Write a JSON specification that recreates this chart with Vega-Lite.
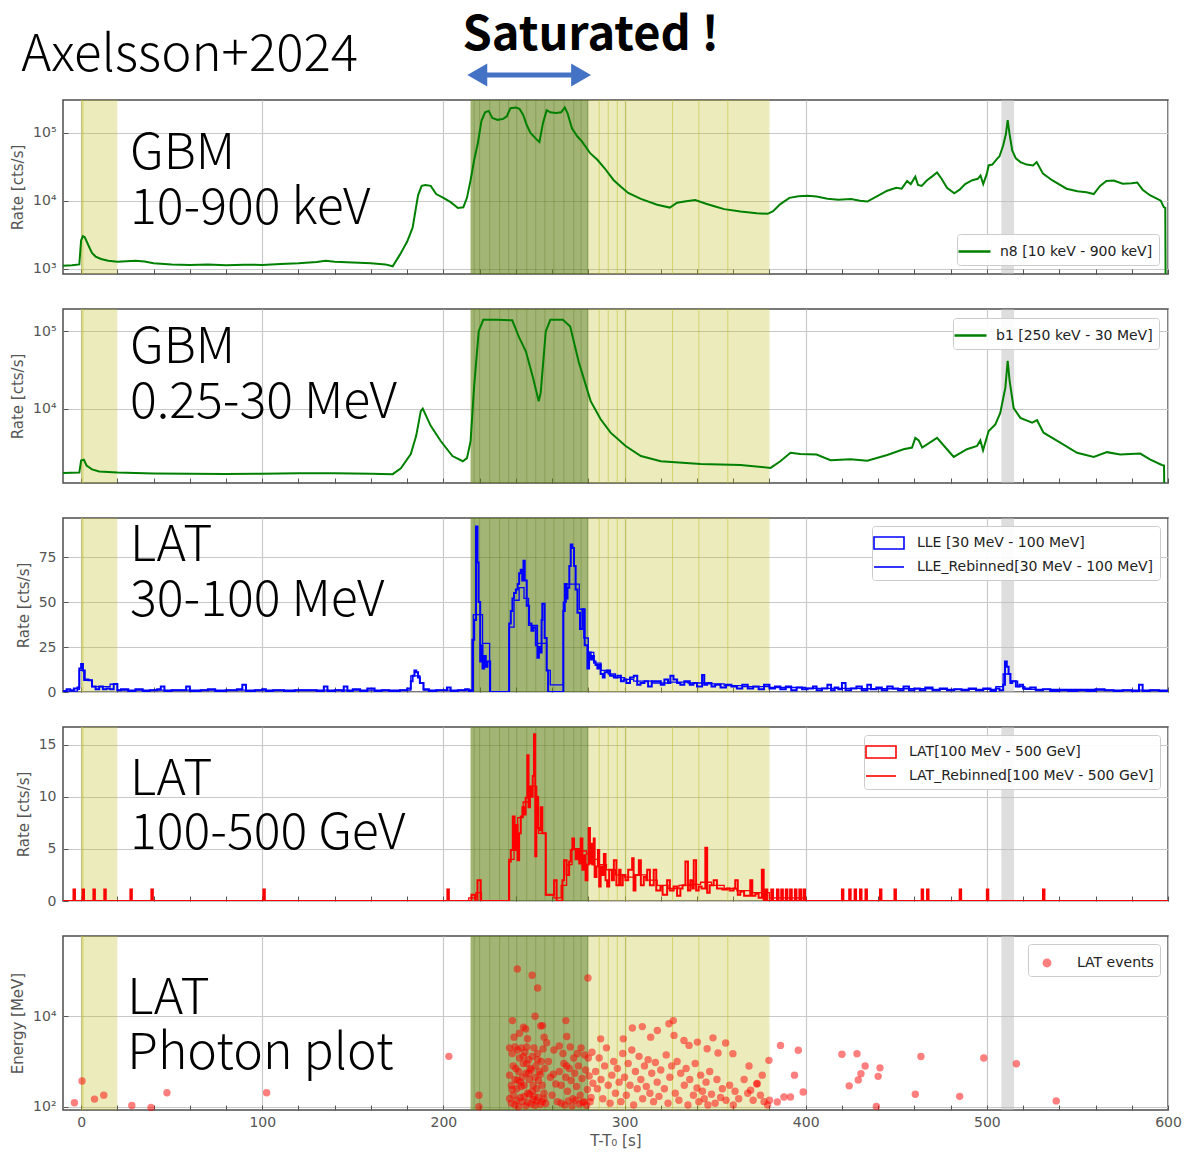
{
"$schema": "https://vega.github.io/schema/vega-lite/v6.json",
"padding": {"left": 9, "top": 0, "right": 10, "bottom": 5},
"spacing": 35,
"bounds": "flush",
"resolve": {"scale": {"color": "independent"}, "legend": {"color": "independent"}},
"config": {
  "font": "DejaVu Sans",
  "view": {"stroke": "#4d4d4d", "strokeWidth": 1.5},
  "axis": {"labelFont": "DejaVu Sans", "titleFont": "DejaVu Sans", "labelColor": "#555", "titleColor": "#555", "labelFontSize": 14, "titleFontSize": 15, "titleFontWeight": "normal", "domain": false, "tickColor": "#555", "tickSize": -5, "labelPadding": 12, "titlePadding": 7, "gridColor": "#c8c8c8", "gridWidth": 1.2},
  "legend": {"labelFont": "DejaVu Sans", "labelFontSize": 14, "labelColor": "#222", "fillColor": "rgba(255,255,255,0.9)", "strokeColor": "#cccccc", "cornerRadius": 3, "padding": 6, "rowPadding": 3, "labelLimit": 400}
},
"datasets": {
  "bands": [{"t":0,"t2":20,"kind":"olive"},{"t":0,"t2":1.5,"kind":"olive"},{"t":215,"t2":380,"kind":"olive"},{"t":215,"t2":280,"kind":"dark"},{"t":508,"t2":515,"kind":"grey"}],
  "vlines": [{"t":217,"kind":"dark"},{"t":220,"kind":"dark"},{"t":225.6,"kind":"dark"},{"t":231,"kind":"dark"},{"t":236,"kind":"dark"},{"t":240.5,"kind":"dark"},{"t":246,"kind":"dark"},{"t":251,"kind":"dark"},{"t":256,"kind":"dark"},{"t":261,"kind":"dark"},{"t":266.5,"kind":"dark"},{"t":272,"kind":"dark"},{"t":276,"kind":"dark"},{"t":279.6,"kind":"dark"},{"t":286,"kind":"light"},{"t":291,"kind":"light"},{"t":296,"kind":"light"},{"t":300.6,"kind":"light"},{"t":326.5,"kind":"light"},{"t":341,"kind":"light"},{"t":357,"kind":"light"}],
  "labels": [{"panel":"n8","line":"GBM","t":27,"y":29600},{"panel":"n8","line":"10-900 keV","t":27,"y":4520},{"panel":"b1","line":"GBM","t":27,"y":38600},{"panel":"b1","line":"0.25-30 MeV","t":27,"y":7540},{"panel":"lle","line":"LAT","t":27,"y":72.8},{"panel":"lle","line":"30-100 MeV","t":27,"y":42.2},{"panel":"lat","line":"LAT","t":27,"y":10.2},{"panel":"lat","line":"100-500 GeV","t":27,"y":5.03},{"panel":"ph","line":"LAT","t":25.5,"y":11300},{"panel":"ph","line":"Photon plot","t":25.5,"y":699}],
  "n8": [{"t":-10,"rate":1100},{"t":-5,"rate":1120},{"t":-1,"rate":1150},{"t":0,"rate":2600},{"t":1,"rate":3000},{"t":2,"rate":2900},{"t":4,"rate":2200},{"t":6,"rate":1700},{"t":8,"rate":1500},{"t":11,"rate":1380},{"t":15,"rate":1300},{"t":20,"rate":1260},{"t":25,"rate":1280},{"t":30,"rate":1300},{"t":35,"rate":1270},{"t":40,"rate":1200},{"t":50,"rate":1150},{"t":60,"rate":1130},{"t":70,"rate":1150},{"t":80,"rate":1120},{"t":90,"rate":1140},{"t":100,"rate":1130},{"t":110,"rate":1170},{"t":120,"rate":1200},{"t":130,"rate":1250},{"t":135,"rate":1300},{"t":140,"rate":1260},{"t":150,"rate":1230},{"t":160,"rate":1200},{"t":168,"rate":1150},{"t":172,"rate":1080},{"t":176,"rate":1600},{"t":180,"rate":2500},{"t":183,"rate":4000},{"t":186,"rate":12000},{"t":188,"rate":16500},{"t":190,"rate":17000},{"t":193,"rate":16500},{"t":196,"rate":12500},{"t":200,"rate":11000},{"t":204,"rate":9500},{"t":208,"rate":7800},{"t":211,"rate":8000},{"t":213,"rate":11000},{"t":215,"rate":20000},{"t":217,"rate":40000},{"t":219,"rate":70000},{"t":221,"rate":150000},{"t":223,"rate":200000},{"t":225,"rate":210000},{"t":227,"rate":165000},{"t":230,"rate":155000},{"t":233,"rate":160000},{"t":235,"rate":175000},{"t":237,"rate":230000},{"t":240,"rate":235000},{"t":242,"rate":225000},{"t":244,"rate":185000},{"t":246,"rate":130000},{"t":248,"rate":100000},{"t":251,"rate":82000},{"t":253,"rate":73000},{"t":255,"rate":140000},{"t":257,"rate":215000},{"t":259,"rate":200000},{"t":262,"rate":195000},{"t":265,"rate":200000},{"t":267,"rate":236000},{"t":268.5,"rate":195000},{"t":271,"rate":115000},{"t":274,"rate":88000},{"t":276,"rate":77000},{"t":279,"rate":60000},{"t":281,"rate":50000},{"t":285,"rate":40000},{"t":289,"rate":30000},{"t":294,"rate":20000},{"t":298,"rate":16000},{"t":302,"rate":13000},{"t":309,"rate":10600},{"t":318,"rate":8700},{"t":325,"rate":7900},{"t":329,"rate":9300},{"t":334,"rate":9800},{"t":339,"rate":10200},{"t":345,"rate":9000},{"t":350,"rate":8200},{"t":355,"rate":7500},{"t":364,"rate":6900},{"t":373,"rate":6500},{"t":379,"rate":6400},{"t":382,"rate":7000},{"t":386,"rate":8900},{"t":391,"rate":11000},{"t":396,"rate":11600},{"t":401,"rate":11800},{"t":406,"rate":11500},{"t":412,"rate":10700},{"t":418,"rate":10300},{"t":425,"rate":10600},{"t":430,"rate":10000},{"t":434,"rate":9700},{"t":439,"rate":11500},{"t":445,"rate":14000},{"t":450,"rate":15500},{"t":453,"rate":15000},{"t":456,"rate":19500},{"t":458,"rate":17500},{"t":460.5,"rate":22500},{"t":462,"rate":17000},{"t":464,"rate":16500},{"t":467,"rate":20000},{"t":470,"rate":23000},{"t":472.5,"rate":26000},{"t":475,"rate":21000},{"t":478,"rate":15500},{"t":482,"rate":12800},{"t":485,"rate":14500},{"t":488,"rate":17500},{"t":492,"rate":20000},{"t":495,"rate":21000},{"t":496.5,"rate":23500},{"t":498,"rate":17500},{"t":500,"rate":25000},{"t":501,"rate":33000},{"t":503,"rate":34000},{"t":505.5,"rate":41000},{"t":507,"rate":45000},{"t":509,"rate":65000},{"t":510.5,"rate":95000},{"t":511.5,"rate":153000},{"t":512.5,"rate":97000},{"t":514,"rate":55000},{"t":516,"rate":42000},{"t":518.5,"rate":37000},{"t":522,"rate":34000},{"t":525.5,"rate":33000},{"t":527.5,"rate":37000},{"t":531,"rate":25000},{"t":536,"rate":20000},{"t":544,"rate":15000},{"t":550,"rate":13800},{"t":555,"rate":13300},{"t":559,"rate":12500},{"t":562.5,"rate":16500},{"t":566,"rate":19500},{"t":570,"rate":19800},{"t":575,"rate":17800},{"t":580,"rate":18000},{"t":583,"rate":18500},{"t":586,"rate":14500},{"t":590,"rate":12000},{"t":593,"rate":11000},{"t":596,"rate":10000},{"t":597.7,"rate":8000},{"t":598.5,"rate":7800},{"t":598.8,"rate":100},{"t":600,"rate":100}],
  "b1": [{"t":-10,"rate":1480},{"t":-1,"rate":1500},{"t":0,"rate":2150},{"t":1.5,"rate":2200},{"t":3,"rate":1850},{"t":6,"rate":1650},{"t":10,"rate":1550},{"t":20,"rate":1500},{"t":40,"rate":1460},{"t":60,"rate":1450},{"t":80,"rate":1440},{"t":100,"rate":1450},{"t":120,"rate":1470},{"t":140,"rate":1470},{"t":160,"rate":1450},{"t":172,"rate":1430},{"t":176.5,"rate":1700},{"t":182,"rate":2600},{"t":185,"rate":4500},{"t":187.5,"rate":9300},{"t":188.6,"rate":10000},{"t":190,"rate":8500},{"t":193,"rate":6000},{"t":198.6,"rate":3800},{"t":205,"rate":2450},{"t":210.7,"rate":2100},{"t":213,"rate":2300},{"t":215,"rate":3800},{"t":217,"rate":20000},{"t":219.5,"rate":100000},{"t":222,"rate":140000},{"t":230,"rate":140000},{"t":238,"rate":138000},{"t":241.6,"rate":85000},{"t":245.5,"rate":55000},{"t":249.3,"rate":26000},{"t":252.6,"rate":12500},{"t":253.7,"rate":16000},{"t":256.5,"rate":99000},{"t":259,"rate":140000},{"t":266,"rate":140000},{"t":270,"rate":115000},{"t":274.7,"rate":40000},{"t":281.3,"rate":12500},{"t":286.8,"rate":7300},{"t":292.3,"rate":4900},{"t":300.6,"rate":3300},{"t":309,"rate":2450},{"t":320,"rate":2100},{"t":342,"rate":1930},{"t":364,"rate":1880},{"t":380.6,"rate":1720},{"t":386,"rate":2100},{"t":391.6,"rate":2700},{"t":397,"rate":2600},{"t":406,"rate":2560},{"t":413.7,"rate":2160},{"t":424.7,"rate":2220},{"t":434,"rate":2130},{"t":445,"rate":2530},{"t":454,"rate":3000},{"t":458.7,"rate":3150},{"t":460.5,"rate":4200},{"t":462.4,"rate":3900},{"t":464.3,"rate":3150},{"t":472.5,"rate":4200},{"t":478,"rate":3000},{"t":481.7,"rate":2390},{"t":489,"rate":3000},{"t":494.6,"rate":3300},{"t":496.4,"rate":3900},{"t":497.9,"rate":2900},{"t":501,"rate":5150},{"t":504.7,"rate":6270},{"t":507.4,"rate":8800},{"t":510.2,"rate":18500},{"t":511.5,"rate":41500},{"t":512.6,"rate":22500},{"t":514.8,"rate":10200},{"t":518.5,"rate":7600},{"t":525,"rate":6600},{"t":527.7,"rate":7100},{"t":531.3,"rate":4900},{"t":540.5,"rate":3650},{"t":549.8,"rate":2700},{"t":559,"rate":2390},{"t":566.3,"rate":2750},{"t":573.6,"rate":2560},{"t":584.7,"rate":2640},{"t":590,"rate":2220},{"t":596.6,"rate":1880},{"t":597.8,"rate":1850},{"t":598.2,"rate":300},{"t":600,"rate":300}],
  "lle": [{"t":-10,"rate":0.5},{"t":-8,"rate":1.5},{"t":-6,"rate":1},{"t":-4,"rate":2},{"t":-2,"rate":2.5},{"t":-1,"rate":13},{"t":0,"rate":15.5},{"t":1,"rate":12},{"t":2,"rate":7},{"t":4,"rate":6.5},{"t":6,"rate":3},{"t":8,"rate":1.5},{"t":10,"rate":3},{"t":12,"rate":1.5},{"t":14,"rate":2},{"t":16,"rate":1.5},{"t":18,"rate":4.5},{"t":20,"rate":1},{"t":22,"rate":1.5},{"t":26,"rate":0.5},{"t":30,"rate":1.5},{"t":34,"rate":0.5},{"t":38,"rate":1},{"t":42,"rate":1.5},{"t":44,"rate":3},{"t":46,"rate":0.5},{"t":50,"rate":1},{"t":54,"rate":1},{"t":58,"rate":3},{"t":60,"rate":0.5},{"t":66,"rate":1},{"t":70,"rate":1.5},{"t":74,"rate":0.5},{"t":80,"rate":1},{"t":86,"rate":1.5},{"t":89,"rate":4},{"t":91,"rate":0.5},{"t":96,"rate":1},{"t":100,"rate":1.5},{"t":102,"rate":0.5},{"t":106,"rate":1},{"t":112,"rate":0.5},{"t":118,"rate":1},{"t":124,"rate":1},{"t":130,"rate":0.5},{"t":134,"rate":3},{"t":136,"rate":0.5},{"t":140,"rate":1},{"t":144,"rate":0.5},{"t":145,"rate":3},{"t":147,"rate":0.5},{"t":150,"rate":1.5},{"t":154,"rate":0.5},{"t":158,"rate":2},{"t":162,"rate":0.5},{"t":166,"rate":1},{"t":170,"rate":0.5},{"t":176,"rate":1},{"t":180,"rate":2},{"t":182,"rate":6},{"t":183,"rate":9},{"t":184,"rate":12},{"t":185,"rate":11},{"t":186,"rate":8},{"t":187,"rate":5},{"t":189,"rate":1.5},{"t":192,"rate":0.5},{"t":196,"rate":1},{"t":200,"rate":1},{"t":202,"rate":2.5},{"t":204,"rate":0.5},{"t":208,"rate":1},{"t":212,"rate":1.5},{"t":214,"rate":0.5},{"t":215,"rate":1},{"t":216,"rate":29},{"t":217,"rate":40},{"t":218,"rate":92},{"t":218.8,"rate":72},{"t":219.4,"rate":50},{"t":220.3,"rate":17},{"t":221,"rate":26},{"t":221.6,"rate":13},{"t":222.5,"rate":20},{"t":223.4,"rate":14},{"t":224.3,"rate":17},{"t":225.8,"rate":0},{"t":236.3,"rate":38},{"t":237.2,"rate":45},{"t":238.1,"rate":52},{"t":239,"rate":55},{"t":240,"rate":57},{"t":241,"rate":60},{"t":241.8,"rate":66},{"t":242.7,"rate":68},{"t":243.5,"rate":62},{"t":244.2,"rate":73},{"t":244.9,"rate":62},{"t":246,"rate":48},{"t":247.3,"rate":38},{"t":248.6,"rate":34},{"t":249.7,"rate":36},{"t":251,"rate":26},{"t":251.9,"rate":19},{"t":252.7,"rate":25},{"t":253.4,"rate":22},{"t":254.2,"rate":40},{"t":254.6,"rate":49},{"t":255.9,"rate":30},{"t":257,"rate":12},{"t":257.8,"rate":0},{"t":266.2,"rate":45},{"t":267,"rate":60},{"t":268,"rate":52},{"t":268.5,"rate":58},{"t":269.5,"rate":70},{"t":270.3,"rate":82},{"t":271.2,"rate":80},{"t":272.1,"rate":70},{"t":273,"rate":57},{"t":274,"rate":44},{"t":275.4,"rate":35},{"t":276.7,"rate":46},{"t":278,"rate":26},{"t":279.5,"rate":13},{"t":280.4,"rate":22},{"t":281.3,"rate":18},{"t":282.2,"rate":20},{"t":283.1,"rate":17},{"t":284,"rate":15},{"t":285,"rate":13},{"t":286,"rate":15},{"t":286.8,"rate":10},{"t":288,"rate":8},{"t":289,"rate":11},{"t":290.4,"rate":12},{"t":292,"rate":9},{"t":294.1,"rate":8},{"t":296,"rate":9},{"t":298,"rate":6},{"t":299.6,"rate":7},{"t":301,"rate":5},{"t":303,"rate":8},{"t":305.1,"rate":9},{"t":307,"rate":4},{"t":308.8,"rate":5},{"t":311,"rate":6},{"t":313,"rate":3},{"t":315,"rate":6},{"t":318,"rate":6},{"t":320,"rate":4},{"t":322,"rate":7},{"t":324,"rate":5},{"t":325.3,"rate":9},{"t":327,"rate":7},{"t":329,"rate":5},{"t":330.8,"rate":4},{"t":333,"rate":6},{"t":336,"rate":4},{"t":338,"rate":5},{"t":340,"rate":3},{"t":342.8,"rate":9.5},{"t":344,"rate":4},{"t":345.6,"rate":5},{"t":348,"rate":3},{"t":350,"rate":4},{"t":353,"rate":2.5},{"t":356,"rate":4},{"t":359,"rate":3},{"t":362,"rate":2},{"t":365,"rate":4},{"t":368,"rate":2},{"t":371,"rate":3},{"t":374,"rate":1.5},{"t":377,"rate":4},{"t":380,"rate":2},{"t":383,"rate":3},{"t":386,"rate":1.5},{"t":389,"rate":3},{"t":392,"rate":1},{"t":395,"rate":2.5},{"t":398,"rate":1.5},{"t":401,"rate":2},{"t":404,"rate":3},{"t":406,"rate":1},{"t":409,"rate":2},{"t":412,"rate":4},{"t":414,"rate":1},{"t":416,"rate":2.5},{"t":418,"rate":1.5},{"t":420,"rate":5},{"t":422,"rate":1},{"t":425,"rate":2},{"t":428,"rate":3},{"t":431,"rate":1},{"t":434,"rate":4},{"t":436,"rate":1.5},{"t":439,"rate":2.5},{"t":442,"rate":1},{"t":445,"rate":3},{"t":448,"rate":2},{"t":451,"rate":1},{"t":454,"rate":3},{"t":457,"rate":1},{"t":460,"rate":2},{"t":463,"rate":1},{"t":466,"rate":2.5},{"t":470,"rate":1},{"t":474,"rate":2},{"t":478,"rate":1},{"t":482,"rate":1.5},{"t":486,"rate":1},{"t":490,"rate":2},{"t":494,"rate":1},{"t":498,"rate":2},{"t":502,"rate":0.5},{"t":505,"rate":2},{"t":507,"rate":1},{"t":509,"rate":4},{"t":510,"rate":17},{"t":511,"rate":14},{"t":512,"rate":10},{"t":513,"rate":5},{"t":514,"rate":6},{"t":516,"rate":3},{"t":518,"rate":4},{"t":520,"rate":2},{"t":524,"rate":2.5},{"t":527,"rate":1},{"t":531,"rate":1.5},{"t":535,"rate":0.5},{"t":540,"rate":1},{"t":545,"rate":0.5},{"t":550,"rate":1},{"t":555,"rate":0.5},{"t":560,"rate":1.5},{"t":565,"rate":1},{"t":570,"rate":0.5},{"t":575,"rate":1},{"t":580,"rate":0.5},{"t":584,"rate":4},{"t":586,"rate":0.5},{"t":590,"rate":1},{"t":595,"rate":0.5},{"t":600,"rate":0.5}],
  "lle_rb": [{"t":-10,"rate":0.5},{"t":-2,"rate":1.5},{"t":-1,"rate":12},{"t":1.5,"rate":6.5},{"t":6,"rate":3},{"t":16,"rate":4.3},{"t":20,"rate":1},{"t":179,"rate":1},{"t":182,"rate":9},{"t":187,"rate":5},{"t":189,"rate":1},{"t":214,"rate":0.5},{"t":216.5,"rate":43},{"t":221.6,"rate":27},{"t":225.5,"rate":0},{"t":236.3,"rate":36},{"t":239,"rate":51},{"t":241.8,"rate":58},{"t":244.5,"rate":52},{"t":247,"rate":37},{"t":251.9,"rate":27},{"t":257,"rate":12},{"t":259,"rate":4},{"t":266.2,"rate":50},{"t":267.8,"rate":60},{"t":275,"rate":46},{"t":277.5,"rate":30},{"t":280,"rate":22},{"t":283,"rate":16},{"t":287,"rate":12},{"t":291,"rate":10},{"t":295,"rate":8},{"t":300,"rate":7},{"t":305,"rate":6},{"t":315,"rate":5},{"t":325,"rate":5.5},{"t":335,"rate":5},{"t":345,"rate":4.5},{"t":355,"rate":3.5},{"t":365,"rate":3},{"t":380,"rate":2.5},{"t":400,"rate":2},{"t":430,"rate":1.8},{"t":470,"rate":1.5},{"t":505,"rate":3},{"t":509,"rate":10},{"t":513,"rate":6},{"t":517,"rate":3},{"t":521,"rate":1.5},{"t":560,"rate":1},{"t":600,"rate":1}],
  "lat": [{"t":-10,"rate":0},{"t":-4.2,"rate":1.1},{"t":-3.4,"rate":0},{"t":0.8,"rate":1.1},{"t":1.6,"rate":0},{"t":6.8,"rate":1.1},{"t":7.6,"rate":0},{"t":12.8,"rate":1.1},{"t":13.6,"rate":0},{"t":27.2,"rate":1.1},{"t":28,"rate":0},{"t":38.8,"rate":1.1},{"t":39.6,"rate":0},{"t":100.6,"rate":1.1},{"t":101.4,"rate":0},{"t":202.2,"rate":1.1},{"t":203,"rate":0},{"t":215.5,"rate":0.6},{"t":217.5,"rate":0},{"t":218.8,"rate":2},{"t":220.6,"rate":0},{"t":236.3,"rate":3.8},{"t":237.2,"rate":4.9},{"t":238.3,"rate":8.1},{"t":239.3,"rate":4.9},{"t":240,"rate":7.3},{"t":240.9,"rate":3.9},{"t":241.8,"rate":6.5},{"t":242.7,"rate":8.1},{"t":243.6,"rate":9},{"t":244.5,"rate":8.3},{"t":245.4,"rate":9.9},{"t":246.3,"rate":14},{"t":247,"rate":9},{"t":247.8,"rate":11},{"t":248.6,"rate":10},{"t":249.3,"rate":12},{"t":250,"rate":16},{"t":250.7,"rate":4.3},{"t":251.3,"rate":10},{"t":252,"rate":7},{"t":252.8,"rate":6.8},{"t":253.7,"rate":9},{"t":254.6,"rate":6.5},{"t":256.5,"rate":0.6},{"t":261.1,"rate":2},{"t":262.5,"rate":0},{"t":265.7,"rate":2},{"t":266.6,"rate":3.9},{"t":268,"rate":2.5},{"t":269.4,"rate":3.8},{"t":270.3,"rate":4.9},{"t":271.2,"rate":6},{"t":272.1,"rate":5},{"t":273,"rate":4},{"t":274,"rate":5},{"t":275,"rate":3.6},{"t":275.8,"rate":6},{"t":276.7,"rate":3},{"t":277.6,"rate":4.4},{"t":278.5,"rate":2},{"t":279.5,"rate":3.5},{"t":280.2,"rate":7},{"t":280.9,"rate":3.6},{"t":281.6,"rate":5.5},{"t":282.2,"rate":3.5},{"t":283,"rate":6},{"t":283.5,"rate":2.3},{"t":284.5,"rate":3.3},{"t":285.3,"rate":4.9},{"t":286,"rate":1.4},{"t":286.8,"rate":3.3},{"t":287.7,"rate":2.5},{"t":288.6,"rate":4.5},{"t":289.5,"rate":2},{"t":290.4,"rate":1.4},{"t":291.5,"rate":3},{"t":293,"rate":2},{"t":294.1,"rate":3.9},{"t":295.5,"rate":1.5},{"t":297,"rate":3},{"t":297.8,"rate":1.5},{"t":299,"rate":2.5},{"t":300.5,"rate":2},{"t":302,"rate":3},{"t":304.2,"rate":4.1},{"t":305,"rate":1},{"t":306,"rate":2.5},{"t":307.9,"rate":3.9},{"t":309,"rate":1.5},{"t":310.6,"rate":2.3},{"t":312,"rate":2},{"t":312.5,"rate":3},{"t":314,"rate":1.5},{"t":316.1,"rate":3},{"t":317.5,"rate":1},{"t":319.8,"rate":1.4},{"t":321,"rate":0.6},{"t":323.5,"rate":2},{"t":325,"rate":1},{"t":327.1,"rate":1.4},{"t":329,"rate":0.5},{"t":330.8,"rate":1.2},{"t":332,"rate":1.5},{"t":333.6,"rate":3.8},{"t":335,"rate":1},{"t":336.3,"rate":2},{"t":337.5,"rate":1.2},{"t":338.2,"rate":3.9},{"t":339.5,"rate":1},{"t":340.9,"rate":1.4},{"t":342.5,"rate":1.2},{"t":344.6,"rate":5.1},{"t":345.6,"rate":0.8},{"t":347,"rate":1.5},{"t":349.2,"rate":2},{"t":351,"rate":1.2},{"t":352.9,"rate":1.2},{"t":354,"rate":1.1},{"t":356.6,"rate":1.2},{"t":358,"rate":1},{"t":360.2,"rate":1.2},{"t":361.1,"rate":2},{"t":362.5,"rate":0.6},{"t":363.9,"rate":0.9},{"t":366,"rate":0.5},{"t":369.4,"rate":2},{"t":370.5,"rate":0.5},{"t":372.2,"rate":0.7},{"t":374,"rate":0.3},{"t":375.8,"rate":3},{"t":376.8,"rate":0},{"t":377.7,"rate":1.1},{"t":378.8,"rate":0},{"t":381,"rate":1.1},{"t":382,"rate":0},{"t":384.1,"rate":1.1},{"t":385,"rate":0},{"t":386.5,"rate":1.1},{"t":387.4,"rate":0},{"t":389,"rate":1.1},{"t":389.9,"rate":0},{"t":391.4,"rate":1.1},{"t":392.3,"rate":0},{"t":394,"rate":1.1},{"t":394.9,"rate":0},{"t":396.5,"rate":1.1},{"t":397.4,"rate":0},{"t":398.8,"rate":1.1},{"t":399.6,"rate":0},{"t":420,"rate":1.1},{"t":420.8,"rate":0},{"t":424,"rate":1.1},{"t":424.8,"rate":0},{"t":427,"rate":1.1},{"t":427.8,"rate":0},{"t":430,"rate":1.1},{"t":430.8,"rate":0},{"t":433,"rate":1.1},{"t":433.8,"rate":0},{"t":441,"rate":1.1},{"t":441.8,"rate":0},{"t":449,"rate":1.1},{"t":449.8,"rate":0},{"t":464,"rate":1.1},{"t":464.8,"rate":0},{"t":467,"rate":1.1},{"t":467.8,"rate":0},{"t":485,"rate":1.1},{"t":485.8,"rate":0},{"t":500,"rate":1.1},{"t":500.8,"rate":0},{"t":531,"rate":1.1},{"t":531.8,"rate":0},{"t":600,"rate":0}],
  "lat_rb": [{"t":-10,"rate":0},{"t":214,"rate":0.3},{"t":218,"rate":0.8},{"t":221,"rate":0},{"t":236,"rate":4},{"t":239,"rate":6},{"t":241,"rate":8},{"t":244,"rate":9.5},{"t":248,"rate":11},{"t":251.5,"rate":10},{"t":252.5,"rate":6.5},{"t":256.5,"rate":0.6},{"t":261,"rate":0.3},{"t":265,"rate":1.5},{"t":268,"rate":3.5},{"t":271,"rate":5},{"t":275,"rate":4.8},{"t":279,"rate":4.5},{"t":282,"rate":4},{"t":286,"rate":3.5},{"t":290,"rate":3},{"t":295,"rate":2.5},{"t":300,"rate":2.3},{"t":306,"rate":2.5},{"t":312,"rate":2},{"t":318,"rate":1.5},{"t":324,"rate":1.2},{"t":330,"rate":1.5},{"t":336,"rate":1.6},{"t":342,"rate":1.8},{"t":348,"rate":1.5},{"t":355,"rate":1.2},{"t":362,"rate":1},{"t":370,"rate":0.8},{"t":380,"rate":0.3},{"t":400,"rate":0},{"t":600,"rate":0}],
  "photons": [{"t":-3.7,"E":123},{"t":0.5,"E":372},{"t":7.4,"E":148},{"t":12.5,"E":181},{"t":28,"E":107},{"t":38.6,"E":97},{"t":47.4,"E":204},{"t":102.4,"E":204},{"t":203,"E":1300},{"t":219.6,"E":181},{"t":219.6,"E":100},{"t":240.8,"E":110000},{"t":249,"E":80000},{"t":252,"E":42000},{"t":279.8,"E":70000},{"t":238.1,"E":8000},{"t":250.6,"E":10000},{"t":245.4,"E":5250},{"t":254.7,"E":6200},{"t":239,"E":3450},{"t":246.4,"E":3170},{"t":253.7,"E":6100},{"t":255.6,"E":3450},{"t":244.2,"E":5700},{"t":242,"E":4200},{"t":236.5,"E":2000},{"t":238,"E":1500},{"t":239.5,"E":2100},{"t":241,"E":1800},{"t":242,"E":1200},{"t":243,"E":2000},{"t":244,"E":900},{"t":245,"E":1600},{"t":246,"E":2100},{"t":247,"E":1100},{"t":248,"E":700},{"t":249,"E":1300},{"t":250,"E":2000},{"t":251,"E":800},{"t":252,"E":1500},{"t":253,"E":600},{"t":254,"E":1000},{"t":255,"E":1900},{"t":256,"E":700},{"t":236.5,"E":500},{"t":237.5,"E":300},{"t":238.5,"E":800},{"t":239.5,"E":400},{"t":240.5,"E":250},{"t":241.5,"E":600},{"t":242.5,"E":350},{"t":243.5,"E":450},{"t":244.5,"E":300},{"t":245.5,"E":550},{"t":246.5,"E":200},{"t":247.5,"E":400},{"t":248.5,"E":650},{"t":249.5,"E":300},{"t":250.5,"E":450},{"t":251.5,"E":250},{"t":252.5,"E":380},{"t":253.5,"E":520},{"t":254.5,"E":300},{"t":255.5,"E":200},{"t":236.5,"E":150},{"t":237.5,"E":120},{"t":238.5,"E":180},{"t":239.5,"E":110},{"t":240.5,"E":140},{"t":241.5,"E":100},{"t":242.5,"E":160},{"t":243.5,"E":130},{"t":244.5,"E":170},{"t":245.5,"E":105},{"t":246.5,"E":125},{"t":247.5,"E":190},{"t":248.5,"E":115},{"t":249.5,"E":145},{"t":250.5,"E":108},{"t":251.5,"E":135},{"t":252.5,"E":160},{"t":253.5,"E":112},{"t":254.5,"E":130},{"t":255.5,"E":150},{"t":256.5,"E":118},{"t":240,"E":700},{"t":243,"E":280},{"t":246,"E":900},{"t":249,"E":220},{"t":252,"E":1100},{"t":241,"E":380},{"t":247,"E":550},{"t":250,"E":170},{"t":244,"E":1300},{"t":238,"E":240},{"t":257,"E":2600},{"t":258,"E":1000},{"t":259,"E":450},{"t":260,"E":180},{"t":261,"E":1800},{"t":260.7,"E":525},{"t":262,"E":320},{"t":263,"E":130},{"t":267.6,"E":8000},{"t":268.1,"E":3560},{"t":264,"E":2200},{"t":266,"E":1500},{"t":268,"E":800},{"t":270,"E":2100},{"t":272,"E":1200},{"t":274,"E":1500},{"t":276,"E":2000},{"t":278,"E":1400},{"t":280,"E":1200},{"t":282,"E":1600},{"t":264,"E":600},{"t":265,"E":300},{"t":266.5,"E":900},{"t":267.5,"E":450},{"t":268.5,"E":220},{"t":269.5,"E":700},{"t":270.5,"E":380},{"t":271.5,"E":150},{"t":272.5,"E":550},{"t":273.5,"E":280},{"t":274.5,"E":800},{"t":275.5,"E":180},{"t":276.5,"E":420},{"t":277.5,"E":130},{"t":278.5,"E":650},{"t":279.5,"E":240},{"t":280.5,"E":480},{"t":281.5,"E":160},{"t":282.5,"E":330},{"t":265,"E":120},{"t":267,"E":110},{"t":269,"E":135},{"t":271,"E":105},{"t":273,"E":140},{"t":275,"E":115},{"t":277,"E":125},{"t":279,"E":108},{"t":281,"E":130},{"t":286.8,"E":3160},{"t":299.3,"E":3160},{"t":304.3,"E":5500},{"t":309.8,"E":5900},{"t":318.1,"E":4850},{"t":324.5,"E":6800},{"t":326.9,"E":8000},{"t":314.4,"E":3450},{"t":327.3,"E":3770},{"t":332.8,"E":2920},{"t":335.6,"E":2270},{"t":340.2,"E":2680},{"t":345.6,"E":1910},{"t":348.8,"E":3330},{"t":351.6,"E":1540},{"t":355.8,"E":2560},{"t":359.8,"E":1490},{"t":368.7,"E":794},{"t":379.7,"E":1060},{"t":386.1,"E":2270},{"t":395.9,"E":1770},{"t":393.8,"E":500},{"t":398.6,"E":213},{"t":388,"E":165},{"t":391.6,"E":165},{"t":384.3,"E":128},{"t":376,"E":500},{"t":373.2,"E":326},{"t":369.6,"E":233},{"t":284,"E":600},{"t":285,"E":250},{"t":286,"E":1200},{"t":287,"E":400},{"t":288,"E":150},{"t":289,"E":800},{"t":290,"E":2000},{"t":291,"E":300},{"t":292,"E":120},{"t":293,"E":500},{"t":294,"E":1000},{"t":295,"E":200},{"t":296,"E":700},{"t":297,"E":350},{"t":298,"E":130},{"t":299,"E":1500},{"t":300,"E":450},{"t":301,"E":180},{"t":302,"E":900},{"t":303,"E":300},{"t":304,"E":1800},{"t":305,"E":110},{"t":306,"E":600},{"t":307,"E":250},{"t":308,"E":1300},{"t":309,"E":400},{"t":310,"E":150},{"t":311,"E":800},{"t":312,"E":280},{"t":313,"E":1100},{"t":314,"E":200},{"t":315,"E":550},{"t":316,"E":130},{"t":317,"E":950},{"t":318,"E":350},{"t":319,"E":170},{"t":320,"E":650},{"t":322,"E":250},{"t":323,"E":1400},{"t":324,"E":120},{"t":325,"E":450},{"t":326,"E":800},{"t":328,"E":200},{"t":329,"E":1000},{"t":330,"E":140},{"t":331,"E":550},{"t":333,"E":300},{"t":334,"E":700},{"t":335,"E":110},{"t":336,"E":400},{"t":338,"E":180},{"t":339,"E":900},{"t":340,"E":260},{"t":341,"E":130},{"t":342,"E":500},{"t":343,"E":220},{"t":344,"E":150},{"t":345,"E":350},{"t":346,"E":110},{"t":347,"E":600},{"t":348,"E":190},{"t":350,"E":120},{"t":351,"E":400},{"t":353,"E":160},{"t":354,"E":250},{"t":356,"E":140},{"t":358,"E":300},{"t":360,"E":110},{"t":361,"E":220},{"t":363,"E":150},{"t":366,"E":400},{"t":368,"E":200},{"t":371,"E":140},{"t":373,"E":320},{"t":375,"E":180},{"t":377,"E":130},{"t":379,"E":110},{"t":380,"E":140},{"t":420,"E":1450},{"t":428.3,"E":1480},{"t":432.8,"E":794},{"t":441,"E":724},{"t":430.5,"E":540},{"t":429,"E":390},{"t":424,"E":290},{"t":440,"E":470},{"t":439,"E":102},{"t":460.5,"E":190},{"t":463.6,"E":1290},{"t":485,"E":170},{"t":498.3,"E":1200},{"t":516.3,"E":890},{"t":538.3,"E":135}]
},
"vconcat": [
  {
    "width": 1105, "height": 65, "view": {"stroke": null},
    "data": {"values": [{}]},
    "layer": [
      {"mark": {"type": "text", "text": "Axelsson+2024", "font": "Noto Sans CJK JP", "fontSize": 51, "fontWeight": 300, "align": "left", "baseline": "alphabetic", "color": "black"},
       "encoding": {"x": {"datum": -33, "type": "quantitative", "scale": {"domain": [-10, 600], "nice": false, "zero": false}, "axis": null}, "y": {"datum": -0.092, "type": "quantitative", "scale": {"domain": [0, 1], "nice": false}, "axis": null}}},
      {"mark": {"type": "text", "text": "Saturated !", "font": "Noto Sans CJK JP", "fontWeight": "bold", "fontSize": 47, "align": "left", "baseline": "alphabetic", "color": "black"},
       "encoding": {"x": {"datum": 210.5, "type": "quantitative", "axis": null}, "y": {"datum": 0.235, "type": "quantitative", "axis": null}}},
      {"mark": {"type": "rule", "color": "#4472C4", "strokeWidth": 5},
       "encoding": {"x": {"datum": 220, "type": "quantitative", "axis": null}, "x2": {"datum": 275}, "y": {"datum": -0.154, "type": "quantitative", "axis": null}}},
      {"mark": {"type": "point", "shape": "triangle-left", "filled": true, "color": "#4472C4", "size": 529, "opacity": 1, "strokeWidth": 0},
       "encoding": {"x": {"datum": 218.7, "type": "quantitative", "axis": null}, "y": {"datum": -0.154, "type": "quantitative", "axis": null}}},
      {"mark": {"type": "point", "shape": "triangle-right", "filled": true, "color": "#4472C4", "size": 529, "opacity": 1, "strokeWidth": 0},
       "encoding": {"x": {"datum": 276, "type": "quantitative", "axis": null}, "y": {"datum": -0.154, "type": "quantitative", "axis": null}}}
    ]
  },
  {
    "width": 1105, "height": 174,
    "encoding": {"x": {"field": "t", "type": "quantitative", "title": null, "scale": {"domain": [-10, 600], "nice": false, "zero": false}, "axis": {"values": [0,20,40,60,80,100,120,140,160,180,200,220,240,260,280,300,320,340,360,380,400,420,440,460,480,500,520,540,560,580,600], "labels": false, "grid": true, "gridOpacity": {"condition": {"test": "datum.value % 100 === 0", "value": 1}, "value": 0}}}},
    "layer": [
      {"data": {"name": "bands"}, "transform": [{"filter": "datum.kind == 'olive'"}], "mark": {"type": "rect", "color": "#bcbd22", "opacity": 0.3}, "encoding": {"x2": {"field": "t2"}}},
      {"data": {"name": "bands"}, "transform": [{"filter": "datum.kind == 'dark'"}], "mark": {"type": "rect", "color": "#3d6b10", "opacity": 0.42}, "encoding": {"x2": {"field": "t2"}}},
      {"data": {"name": "bands"}, "transform": [{"filter": "datum.kind == 'grey'"}], "mark": {"type": "rect", "color": "#bdbdbd", "opacity": 0.5}, "encoding": {"x2": {"field": "t2"}}},
      {"data": {"name": "vlines"}, "transform": [{"filter": "datum.kind == 'dark'"}], "mark": {"type": "rule", "color": "#4f6f1a", "opacity": 0.3, "strokeWidth": 1}, "encoding": {}},
      {"data": {"name": "vlines"}, "transform": [{"filter": "datum.kind == 'light'"}], "mark": {"type": "rule", "color": "#bcbd22", "opacity": 0.5, "strokeWidth": 1}, "encoding": {}},
      {"data": {"name": "n8"}, "mark": {"type": "line", "strokeWidth": 2, "clip": true},
       "encoding": {"y": {"field": "rate", "type": "quantitative", "title": "Rate [cts/s]", "scale": {"type": "log", "domain": [830, 304000], "nice": false}, "axis": {"values": [1000, 10000, 100000], "labelExpr": "datum.value >= 99999 ? '10⁵' : datum.value >= 9999 ? '10⁴' : '10³'", "grid": true}},
                    "color": {"datum": "n8 [10 keV - 900 keV]", "scale": {"range": ["#008000"]}, "legend": {"title": null, "orient": "bottom-right", "offset": 9, "symbolType": "M-1.6,0H1.6", "symbolSize": 400, "symbolStrokeWidth": 2.5, "labelOffset": 14}}}},
      {"data": {"name": "labels"}, "transform": [{"filter": "datum.panel == 'n8'"}], "mark": {"type": "text", "font": "Noto Sans CJK JP", "fontWeight": 300, "fontSize": 50, "align": "left", "baseline": "alphabetic", "color": "black"},
       "encoding": {"y": {"field": "y", "type": "quantitative", "title": "Rate [cts/s]", "scale": {"type": "log", "domain": [830, 304000], "nice": false}}, "text": {"field": "line", "type": "nominal"}}}
    ]
  },
  {
    "width": 1105, "height": 174,
    "encoding": {"x": {"field": "t", "type": "quantitative", "title": null, "scale": {"domain": [-10, 600], "nice": false, "zero": false}, "axis": {"values": [0,20,40,60,80,100,120,140,160,180,200,220,240,260,280,300,320,340,360,380,400,420,440,460,480,500,520,540,560,580,600], "labels": false, "grid": true, "gridOpacity": {"condition": {"test": "datum.value % 100 === 0", "value": 1}, "value": 0}}}},
    "layer": [
      {"data": {"name": "bands"}, "transform": [{"filter": "datum.kind == 'olive'"}], "mark": {"type": "rect", "color": "#bcbd22", "opacity": 0.3}, "encoding": {"x2": {"field": "t2"}}},
      {"data": {"name": "bands"}, "transform": [{"filter": "datum.kind == 'dark'"}], "mark": {"type": "rect", "color": "#3d6b10", "opacity": 0.42}, "encoding": {"x2": {"field": "t2"}}},
      {"data": {"name": "bands"}, "transform": [{"filter": "datum.kind == 'grey'"}], "mark": {"type": "rect", "color": "#bdbdbd", "opacity": 0.5}, "encoding": {"x2": {"field": "t2"}}},
      {"data": {"name": "vlines"}, "transform": [{"filter": "datum.kind == 'dark'"}], "mark": {"type": "rule", "color": "#4f6f1a", "opacity": 0.3, "strokeWidth": 1}, "encoding": {}},
      {"data": {"name": "vlines"}, "transform": [{"filter": "datum.kind == 'light'"}], "mark": {"type": "rule", "color": "#bcbd22", "opacity": 0.5, "strokeWidth": 1}, "encoding": {}},
      {"data": {"name": "b1"}, "mark": {"type": "line", "strokeWidth": 2, "clip": true},
       "encoding": {"y": {"field": "rate", "type": "quantitative", "title": "Rate [cts/s]", "scale": {"type": "log", "domain": [1100, 193000], "nice": false}, "axis": {"values": [10000, 100000], "labelExpr": "datum.value >= 99999 ? '10⁵' : '10⁴'", "grid": true}},
                    "color": {"datum": "b1 [250 keV - 30 MeV]", "scale": {"range": ["#008000"]}, "legend": {"title": null, "orient": "top-right", "offset": 9, "symbolType": "M-1.6,0H1.6", "symbolSize": 400, "symbolStrokeWidth": 2.5, "labelOffset": 14}}}},
      {"data": {"name": "labels"}, "transform": [{"filter": "datum.panel == 'b1'"}], "mark": {"type": "text", "font": "Noto Sans CJK JP", "fontWeight": 300, "fontSize": 50, "align": "left", "baseline": "alphabetic", "color": "black"},
       "encoding": {"y": {"field": "y", "type": "quantitative", "title": "Rate [cts/s]", "scale": {"type": "log", "domain": [1100, 193000], "nice": false}}, "text": {"field": "line", "type": "nominal"}}}
    ]
  },
  {
    "width": 1105, "height": 174,
    "encoding": {"x": {"field": "t", "type": "quantitative", "title": null, "scale": {"domain": [-10, 600], "nice": false, "zero": false}, "axis": {"values": [0,20,40,60,80,100,120,140,160,180,200,220,240,260,280,300,320,340,360,380,400,420,440,460,480,500,520,540,560,580,600], "labels": false, "grid": true, "gridOpacity": {"condition": {"test": "datum.value % 100 === 0", "value": 1}, "value": 0}}}},
    "layer": [
      {"data": {"name": "bands"}, "transform": [{"filter": "datum.kind == 'olive'"}], "mark": {"type": "rect", "color": "#bcbd22", "opacity": 0.3}, "encoding": {"x2": {"field": "t2"}}},
      {"data": {"name": "bands"}, "transform": [{"filter": "datum.kind == 'dark'"}], "mark": {"type": "rect", "color": "#3d6b10", "opacity": 0.42}, "encoding": {"x2": {"field": "t2"}}},
      {"data": {"name": "bands"}, "transform": [{"filter": "datum.kind == 'grey'"}], "mark": {"type": "rect", "color": "#bdbdbd", "opacity": 0.5}, "encoding": {"x2": {"field": "t2"}}},
      {"data": {"name": "vlines"}, "transform": [{"filter": "datum.kind == 'dark'"}], "mark": {"type": "rule", "color": "#4f6f1a", "opacity": 0.3, "strokeWidth": 1}, "encoding": {}},
      {"data": {"name": "vlines"}, "transform": [{"filter": "datum.kind == 'light'"}], "mark": {"type": "rule", "color": "#bcbd22", "opacity": 0.5, "strokeWidth": 1}, "encoding": {}},
      {"data": {"name": "lle"}, "mark": {"type": "line", "interpolate": "step-after", "strokeWidth": 2, "clip": true},
       "encoding": {"y": {"field": "rate", "type": "quantitative", "title": "Rate [cts/s]", "scale": {"domain": [0, 96.7], "nice": false}, "axis": {"values": [0, 25, 50, 75], "grid": true}},
                    "color": {"datum": "LLE [30 MeV - 100 MeV]", "scale": {"domain": ["LLE [30 MeV - 100 MeV]", "LLE_Rebinned[30 MeV - 100 MeV]"], "range": ["#0000ff", "#0000ff"]},
                              "legend": {"title": null, "orient": "top-right", "offset": 8, "symbolType": "M-1.5,-0.6H1.5V0.6H-1.5Z", "symbolSize": 400, "symbolStrokeWidth": 1.6, "labelOffset": 17,
                                         "encode": {"symbols": {"update": {"shape": {"signal": "datum.value == 'LLE [30 MeV - 100 MeV]' ? 'M-1.5,-0.6H1.5V0.6H-1.5Z' : 'M-1.5,0H1.5'"}, "fill": {"value": "transparent"}}}}}}}},
      {"data": {"name": "lle_rb"}, "mark": {"type": "line", "interpolate": "step-after", "strokeWidth": 1.3, "clip": true},
       "encoding": {"y": {"field": "rate", "type": "quantitative", "title": "Rate [cts/s]", "scale": {"domain": [0, 96.7], "nice": false}},
                    "color": {"datum": "LLE_Rebinned[30 MeV - 100 MeV]"}}},
      {"data": {"name": "labels"}, "transform": [{"filter": "datum.panel == 'lle'"}], "mark": {"type": "text", "font": "Noto Sans CJK JP", "fontWeight": 300, "fontSize": 50, "align": "left", "baseline": "alphabetic", "color": "black"},
       "encoding": {"y": {"field": "y", "type": "quantitative", "title": "Rate [cts/s]", "scale": {"domain": [0, 96.7], "nice": false}}, "text": {"field": "line", "type": "nominal"}}}
    ]
  },
  {
    "width": 1105, "height": 174,
    "encoding": {"x": {"field": "t", "type": "quantitative", "title": null, "scale": {"domain": [-10, 600], "nice": false, "zero": false}, "axis": {"values": [0,20,40,60,80,100,120,140,160,180,200,220,240,260,280,300,320,340,360,380,400,420,440,460,480,500,520,540,560,580,600], "labels": false, "grid": true, "gridOpacity": {"condition": {"test": "datum.value % 100 === 0", "value": 1}, "value": 0}}}},
    "layer": [
      {"data": {"name": "bands"}, "transform": [{"filter": "datum.kind == 'olive'"}], "mark": {"type": "rect", "color": "#bcbd22", "opacity": 0.3}, "encoding": {"x2": {"field": "t2"}}},
      {"data": {"name": "bands"}, "transform": [{"filter": "datum.kind == 'dark'"}], "mark": {"type": "rect", "color": "#3d6b10", "opacity": 0.42}, "encoding": {"x2": {"field": "t2"}}},
      {"data": {"name": "bands"}, "transform": [{"filter": "datum.kind == 'grey'"}], "mark": {"type": "rect", "color": "#bdbdbd", "opacity": 0.5}, "encoding": {"x2": {"field": "t2"}}},
      {"data": {"name": "vlines"}, "transform": [{"filter": "datum.kind == 'dark'"}], "mark": {"type": "rule", "color": "#4f6f1a", "opacity": 0.3, "strokeWidth": 1}, "encoding": {}},
      {"data": {"name": "vlines"}, "transform": [{"filter": "datum.kind == 'light'"}], "mark": {"type": "rule", "color": "#bcbd22", "opacity": 0.5, "strokeWidth": 1}, "encoding": {}},
      {"data": {"name": "lat"}, "mark": {"type": "line", "interpolate": "step-after", "strokeWidth": 2, "clip": true},
       "encoding": {"y": {"field": "rate", "type": "quantitative", "title": "Rate [cts/s]", "scale": {"domain": [0, 16.7], "nice": false}, "axis": {"values": [0, 5, 10, 15], "grid": true}},
                    "color": {"datum": "LAT[100 MeV - 500 GeV]", "scale": {"domain": ["LAT[100 MeV - 500 GeV]", "LAT_Rebinned[100 MeV - 500 GeV]"], "range": ["#ff0000", "#ff0000"]},
                              "legend": {"title": null, "orient": "top-right", "offset": 8, "symbolType": "M-1.5,-0.6H1.5V0.6H-1.5Z", "symbolSize": 400, "symbolStrokeWidth": 1.6, "labelOffset": 17,
                                         "encode": {"symbols": {"update": {"shape": {"signal": "datum.value == 'LAT[100 MeV - 500 GeV]' ? 'M-1.5,-0.6H1.5V0.6H-1.5Z' : 'M-1.5,0H1.5'"}, "fill": {"value": "transparent"}}}}}}}},
      {"data": {"name": "lat_rb"}, "mark": {"type": "line", "interpolate": "step-after", "strokeWidth": 1.3, "clip": true},
       "encoding": {"y": {"field": "rate", "type": "quantitative", "title": "Rate [cts/s]", "scale": {"domain": [0, 16.7], "nice": false}},
                    "color": {"datum": "LAT_Rebinned[100 MeV - 500 GeV]"}}},
      {"data": {"name": "labels"}, "transform": [{"filter": "datum.panel == 'lat'"}], "mark": {"type": "text", "font": "Noto Sans CJK JP", "fontWeight": 300, "fontSize": 50, "align": "left", "baseline": "alphabetic", "color": "black"},
       "encoding": {"y": {"field": "y", "type": "quantitative", "title": "Rate [cts/s]", "scale": {"domain": [0, 16.7], "nice": false}}, "text": {"field": "line", "type": "nominal"}}}
    ]
  },
  {
    "width": 1105, "height": 174,
    "encoding": {"x": {"field": "t", "type": "quantitative", "title": "T-T₀ [s]", "scale": {"domain": [-10, 600], "nice": false, "zero": false}, "axis": {"values": [0,20,40,60,80,100,120,140,160,180,200,220,240,260,280,300,320,340,360,380,400,420,440,460,480,500,520,540,560,580,600], "labelExpr": "datum.value % 100 === 0 ? datum.label : ''", "labelFlush": false, "labelPadding": 10, "titlePadding": 4, "grid": true, "gridOpacity": {"condition": {"test": "datum.value % 100 === 0", "value": 1}, "value": 0}}}},
    "layer": [
      {"data": {"name": "bands"}, "transform": [{"filter": "datum.kind == 'olive'"}], "mark": {"type": "rect", "color": "#bcbd22", "opacity": 0.3}, "encoding": {"x2": {"field": "t2"}}},
      {"data": {"name": "bands"}, "transform": [{"filter": "datum.kind == 'dark'"}], "mark": {"type": "rect", "color": "#3d6b10", "opacity": 0.42}, "encoding": {"x2": {"field": "t2"}}},
      {"data": {"name": "bands"}, "transform": [{"filter": "datum.kind == 'grey'"}], "mark": {"type": "rect", "color": "#bdbdbd", "opacity": 0.5}, "encoding": {"x2": {"field": "t2"}}},
      {"data": {"name": "vlines"}, "transform": [{"filter": "datum.kind == 'dark'"}], "mark": {"type": "rule", "color": "#4f6f1a", "opacity": 0.3, "strokeWidth": 1}, "encoding": {}},
      {"data": {"name": "vlines"}, "transform": [{"filter": "datum.kind == 'light'"}], "mark": {"type": "rule", "color": "#bcbd22", "opacity": 0.5, "strokeWidth": 1}, "encoding": {}},
      {"data": {"name": "photons"}, "mark": {"type": "point", "filled": true, "size": 55, "opacity": 0.5, "strokeWidth": 0},
       "encoding": {"y": {"field": "E", "type": "quantitative", "title": "Energy [MeV]", "scale": {"type": "log", "domain": [85, 590000], "nice": false}, "axis": {"values": [100, 10000], "labelExpr": "datum.value >= 9999 ? '10⁴' : '10²'", "grid": true}},
                    "color": {"datum": "LAT events", "scale": {"range": ["#ff0000"]}, "legend": {"title": null, "orient": "top-right", "offset": 8, "symbolType": "M-0.37,0A0.37,0.37,0,1,1,0.37,0A0.37,0.37,0,1,1,-0.37,0Z", "symbolSize": 576, "labelOffset": 17}}}},
      {"data": {"name": "labels"}, "transform": [{"filter": "datum.panel == 'ph'"}], "mark": {"type": "text", "font": "Noto Sans CJK JP", "fontWeight": 300, "fontSize": 50, "align": "left", "baseline": "alphabetic", "color": "black"},
       "encoding": {"y": {"field": "y", "type": "quantitative", "title": "Energy [MeV]", "scale": {"type": "log", "domain": [85, 590000], "nice": false}}, "text": {"field": "line", "type": "nominal"}}}
    ]
  }
]
}
